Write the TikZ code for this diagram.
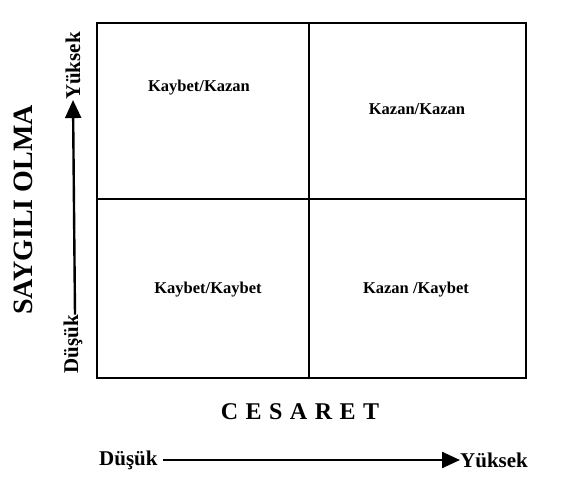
\documentclass[tikz,border=0pt]{standalone}
\usepackage{fontspec}
\setmainfont{Liberation Serif}
\usetikzlibrary{arrows.meta}
\newcommand{\spaced}{\hspace{7.5pt}}
\begin{document}
\begin{tikzpicture}[x=1pt,y=-1pt,
  cell/.style={font=\fontsize{16.5}{19}\selectfont\bfseries, inner sep=0pt},
  axlabel/.style={font=\fontsize{21}{24}\selectfont\bfseries, inner sep=0pt},
  title/.style={font=\fontsize{28}{32}\selectfont\bfseries, inner sep=0pt},
  gridline/.style={line width=2pt},
  axarrow/.style={line width=2.4pt, -{Triangle[length=18pt,width=16pt]}}]
\useasboundingbox (0,0) rectangle (566,487);
\fill[white] (0,0) rectangle (566,487);
% grid
\coordinate (tl) at (97,23);
\coordinate (br) at (526,378);
\coordinate (mt) at (309,23);
\coordinate (mb) at (309,378);
\coordinate (ml) at (97,199);
\coordinate (mr) at (526,199);
\draw[gridline] (tl) rectangle (br);
\draw[gridline] (mt) -- (mb);
\draw[gridline] (ml) -- (mr);
% cell labels
\node[cell] (q1) at (199,88) {Kaybet/Kazan};
\node[cell] (q2) at (417,109) {Kazan/Kazan};
\node[cell] (q3) at (208,290) {Kaybet/Kaybet};
\node[cell] (q4) at (416,290) {Kazan /Kaybet};
% vertical axis
\node[title, rotate=90] (say) at (23,210) {SAYGILI OLMA};
\node[axlabel, rotate=90] (vlow) at (73,344) {Düşük};
\node[axlabel, rotate=90] (vhigh) at (73,66) {Yüksek};
\draw[axarrow] ([xshift=2pt]vlow.east) -- (vhigh.west);
% horizontal axis
\node[font=\fontsize{24}{28}\selectfont\bfseries, inner sep=0pt] (ces) at (300,412)
  {C\spaced E\spaced S\spaced A\spaced R\spaced E\spaced T};
\node[axlabel, anchor=west] (hlow) at (99,460) {Düşük};
\node[axlabel, anchor=west] (hhigh) at (460,460) {Yüksek};
\draw[axarrow] ([xshift=5pt]hlow.east) -- (hhigh.west);
\end{tikzpicture}
\end{document}
